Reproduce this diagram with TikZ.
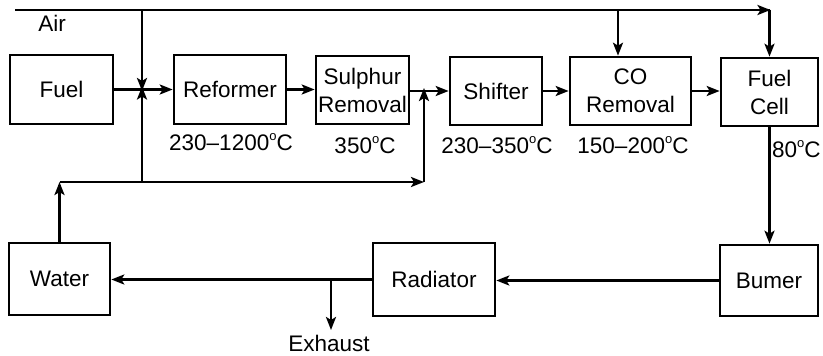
\documentclass[tikz,border=0pt]{standalone}
\usepackage{fontspec}
\setmainfont{Liberation Sans}
\usetikzlibrary{arrows.meta}
\newcommand{\degc}{\raisebox{9.5pt}{\fontsize{13}{13}\selectfont o}C}
\begin{document}
\begin{tikzpicture}[x=1pt,y=-1pt,
  every node/.style={font=\fontsize{22.5}{28}\selectfont},
  blk/.style={draw,line width=2.6pt,align=center,inner sep=0pt},
  flow/.style={line width=2.6pt,-{Stealth[length=13pt,width=10pt,inset=3pt]}},
  plain/.style={line width=2.6pt},
  lbl/.style={inner sep=0pt}]
\useasboundingbox (0,0) rectangle (823,356);
% blocks
\node[blk,minimum width=103,minimum height=69] (fuel) at (61.5,89.5) {Fuel};
\node[blk,minimum width=112,minimum height=69] (ref) at (230,89.5) {Reformer};
\node[blk,minimum width=93,minimum height=68] (sul) at (362.5,90) {Sulphur\\Removal};
\node[blk,minimum width=92,minimum height=68] (shf) at (496,91) {Shifter};
\node[blk,minimum width=121,minimum height=68] (co) at (630.5,91) {CO\\Removal};
\node[blk,minimum width=97,minimum height=68] (fc) at (769.5,92) {Fuel\\Cell};
\node[blk,minimum width=98,minimum height=71] (bur) at (769,280.5) {Bumer};
\node[blk,minimum width=122,minimum height=73] (rad) at (434,279.5) {Radiator};
\node[blk,minimum width=101,minimum height=72] (wat) at (59.5,279) {Water};
% labels
\node[lbl] (air) at (52,23.5) {Air};
\node[lbl] (t1) at (231,142) {230–1200\degc};
\node[lbl] (t2) at (365,145) {350\degc};
\node[lbl] (t3) at (497,145) {230–350\degc};
\node[lbl] (t4) at (633,145) {150–200\degc};
\node[lbl,anchor=west] (t5) at (772,149) {80\degc};
\node[lbl] (exh) at (329,343) {Exhaust};
% coordinates
\coordinate (airL) at (15,10);
\coordinate (airR) at (769.5,10);
\coordinate (airA) at (142,10);
\coordinate (airB) at (618,10);
\coordinate (j1) at (142,89.5);
\coordinate (j2) at (424,91);
\coordinate (lowL) at (59.5,182);
\coordinate (lowA) at (142,182);
\coordinate (lowR) at (424,182);
\coordinate (exA) at (331,279);
\coordinate (exB) at (331,330);
% air line
\draw[plain] (airL) -- (airR);
\draw[flow] (airL) -- ([xshift=1pt]airR);
\draw[flow] (airR) -- (fc.north);
\draw[flow] (airA) -- ([yshift=-1.5pt]j1);
\draw[flow] (airB) -- (airB |- co.north);
% main chain
\draw[flow] (fuel.east) -- (ref.west);
\draw[flow] (ref.east) -- (ref.east -| sul.west);
\draw[flow] (sul.east |- shf.west) -- (shf.west);
\draw[flow] (shf.east) -- (co.west);
\draw[flow] (co.east) -- (co.east -| fc.west);
% water return
\draw[flow] (wat.north) -- (lowL);
\draw[flow] (lowL) -- (lowR);
\draw[flow] (lowA) -- ([yshift=3pt]j1);
\draw[flow] (lowR) -- ([yshift=3pt]j2);
% bottom loop
\draw[flow] (fc.south) -- (fc.south |- bur.north);
\draw[flow] (bur.west) -- (bur.west -| rad.east);
\draw[flow] (rad.west) -- (rad.west -| wat.east);
\draw[flow] (exA) -- (exB);
\end{tikzpicture}
\end{document}
